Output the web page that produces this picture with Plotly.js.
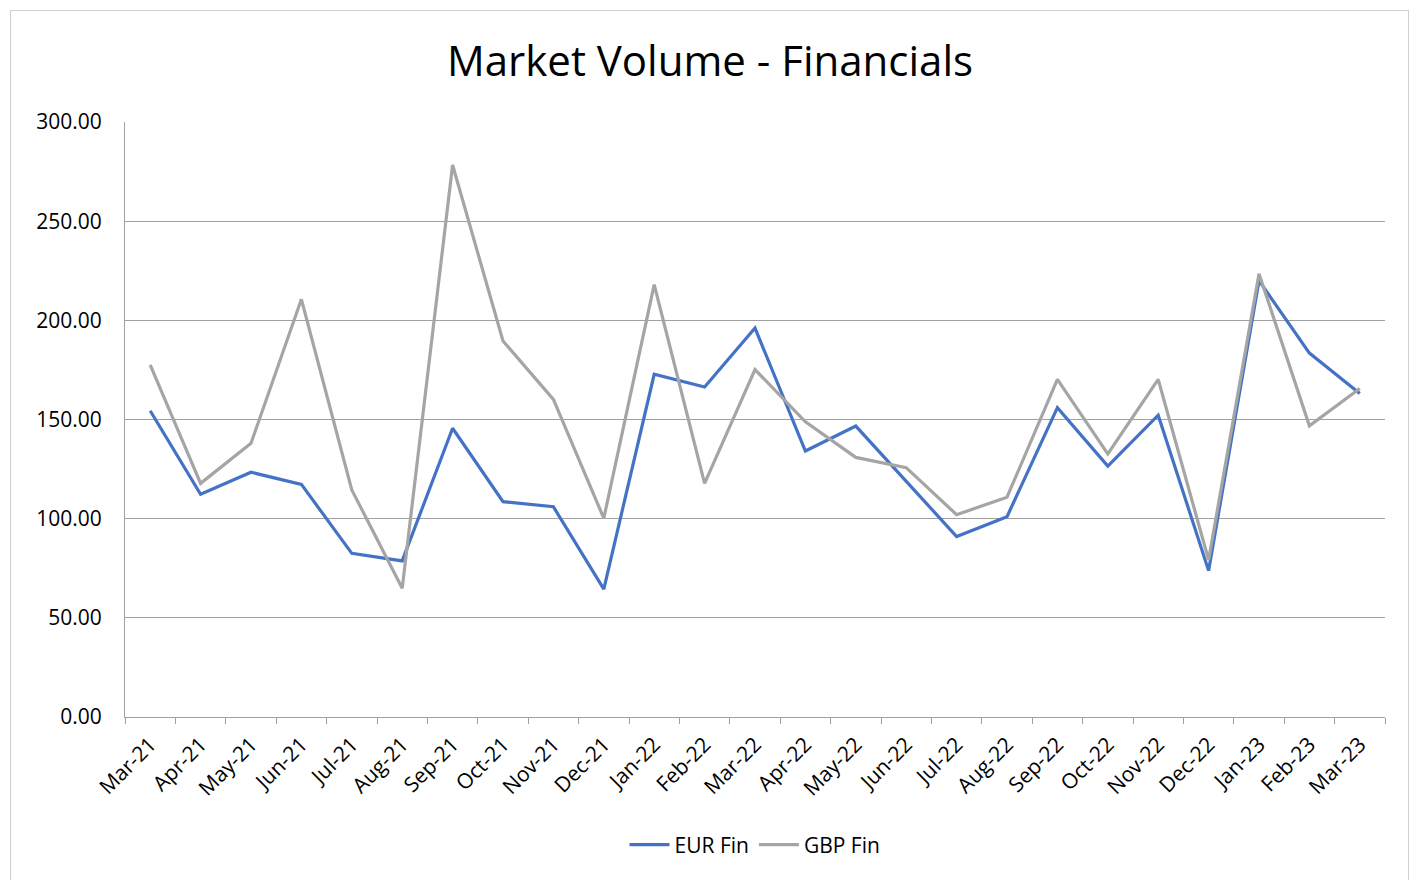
<!DOCTYPE html>
<html>
<head>
<meta charset="utf-8">
<script src="https://cdn.plot.ly/plotly-3.0.1.min.js"></script>
<style>
  html, body { margin: 0; padding: 0; background: #ffffff; }
  #frame { position: absolute; left: 10px; top: 10px; width: 1399px; height: 880px; border: 1px solid #d0d0d0; box-sizing: border-box; }
  #chart { position: absolute; left: 0; top: 0; width: 1420px; height: 880px; }
</style>
</head>
<body>
<div id="frame"></div>
<div id="chart"></div>
<script>
const months = ["Mar-21","Apr-21","May-21","Jun-21","Jul-21","Aug-21","Sep-21","Oct-21","Nov-21","Dec-21",
  "Jan-22","Feb-22","Mar-22","Apr-22","May-22","Jun-22","Jul-22","Aug-22","Sep-22","Oct-22","Nov-22","Dec-22",
  "Jan-23","Feb-23","Mar-23"];
const eurFin = [154.4,112.3,123.4,117.3,82.5,78.7,145.6,108.6,106.0,64.5,
  172.8,166.4,196.1,134.1,146.7,119.0,91.0,101.0,156.0,126.5,152.2,73.8,
  220.0,183.5,163.1];
const gbpFin = [177.5,117.8,138.0,210.6,114.5,64.9,278.3,189.6,160.1,100.2,
  218.0,117.8,175.2,148.8,130.9,125.7,102.0,110.8,170.2,132.6,170.2,79.2,
  223.5,146.8,165.6];
const yTicks = [0,50,100,150,200,250,300];

const font = "Open Sans, Noto Sans, sans-serif";
const traces = [
  {x: months, y: eurFin, type: "scatter", mode: "lines", name: "EUR Fin",
   line: {color: "#4472C4", width: 3.2}},
  {x: months, y: gbpFin, type: "scatter", mode: "lines", name: "GBP Fin",
   line: {color: "#A5A5A5", width: 3.2}}
];
const layout = {
  width: 1420, height: 880,
  margin: {l: 125, r: 35, t: 122, b: 163},
  paper_bgcolor: "rgba(0,0,0,0)", plot_bgcolor: "#ffffff",
  title: {text: "Market Volume - Financials", x: 0.5, xanchor: "center", y: 0.93, yanchor: "middle",
    font: {family: font, size: 42, color: "#000000"}},
  showlegend: true,
  legend: {orientation: "h", x: 0.5, xanchor: "center", y: -0.215, yanchor: "middle",
    font: {family: font, size: 21, color: "#000000"}, itemwidth: 40},
  xaxis: {type: "category", range: [-0.5, months.length - 0.5], tickangle: -45, tickson: "boundaries",
    ticks: "outside", ticklen: 6, ticklabelstandoff: 6,
    tickcolor: "#a0a0a0", showline: true, linecolor: "#a0a0a0", linewidth: 1, showgrid: false,
    tickfont: {family: font, size: 21, color: "#000000"}, fixedrange: true},
  yaxis: {range: [0, 300], tickvals: yTicks, ticktext: yTicks.map(v => v.toFixed(2)),
    showgrid: true, gridcolor: "#a0a0a0", gridwidth: 1, showline: true, linecolor: "#a0a0a0",
    zeroline: false, ticks: "", tickfont: {family: font, size: 21, color: "#000000"}, ticklen: 0,
    ticklabelstandoff: 18, fixedrange: true}
};
Plotly.newPlot("chart", traces, layout, {displayModeBar: false, staticPlot: true});
</script>
</body>
</html>
